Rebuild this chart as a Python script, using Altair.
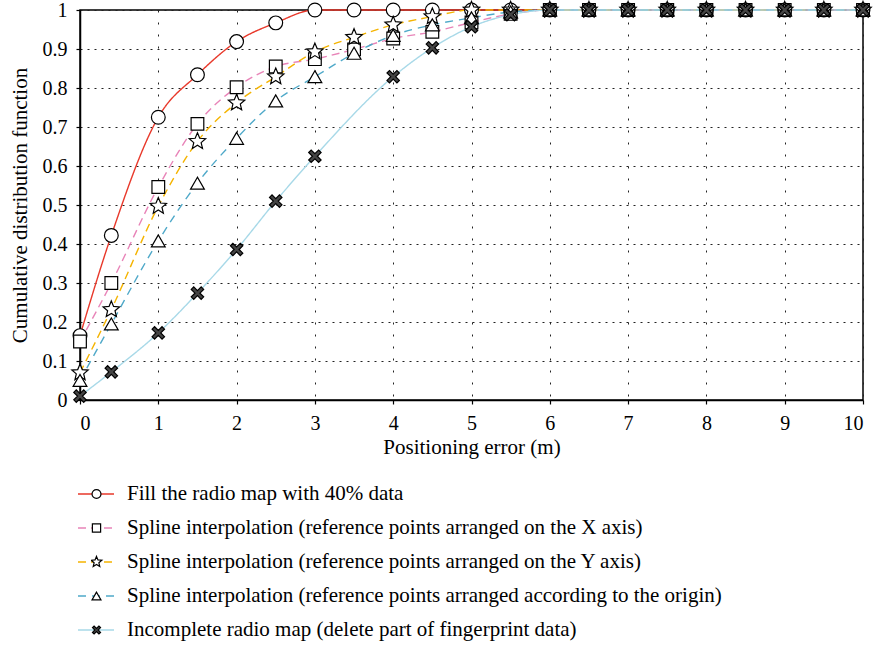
import altair as alt
import pandas as pd

x_vals = [0, 0.4, 1, 1.5, 2, 2.5, 3, 3.5, 4, 4.5, 5, 5.5, 6, 6.5, 7, 7.5, 8, 8.5, 9, 9.5, 10]

fill40 = [0.165, 0.422, 0.725, 0.834, 0.919, 0.967, 1.0, 1.0, 1.0, 1.0, 1.0, 1.0, 1.0, 1.0, 1.0, 1.0, 1.0, 1.0, 1.0, 1.0, 1.0]
spline_x = [0.150, 0.300, 0.546, 0.708, 0.802, 0.855, 0.874, 0.899, 0.927, 0.944, 0.968, 0.990, 1.0, 1.0, 1.0, 1.0, 1.0, 1.0, 1.0, 1.0, 1.0]
spline_y = [0.070, 0.232, 0.497, 0.663, 0.762, 0.829, 0.893, 0.930, 0.962, 0.983, 1.0, 1.0, 1.0, 1.0, 1.0, 1.0, 1.0, 1.0, 1.0, 1.0, 1.0]
spline_o = [0.050, 0.195, 0.408, 0.556, 0.671, 0.767, 0.829, 0.889, 0.935, 0.962, 0.980, 0.995, 1.0, 1.0, 1.0, 1.0, 1.0, 1.0, 1.0, 1.0, 1.0]
incomplete = [0.010, 0.072, 0.172, 0.274, 0.386, 0.510, 0.625, None, 0.829, 0.903, 0.957, 0.988, 1.0, 1.0, 1.0, 1.0, 1.0, 1.0, 1.0, 1.0, 1.0]

names = [
    "Fill the radio map with 40% data",
    "Spline interpolation (reference points arranged on the X axis)",
    "Spline interpolation (reference points arranged on the Y axis)",
    "Spline interpolation (reference points arranged according to the origin)",
    "Incomplete radio map (delete part of fingerprint data)",
]
marker_keys = ["m1", "m2", "m3", "m4", "m5"]
series_values = [fill40, spline_x, spline_y, spline_o, incomplete]

colors = ["#e8392b", "#e884b8", "#f5b400", "#4fa9c9", "#a8d9e8"]
dashes = [[1, 0], [8, 5], [8, 5], [8, 6], [1, 0]]
square_path = "M-0.92,-0.92 L0.92,-0.92 L0.92,0.92 L-0.92,0.92 Z"
star_path = ("M0,-1.25 L0.33,-0.455 L1.189,-0.386 L0.535,0.174 L0.735,1.011 L0,0.5625 "
             "L-0.735,1.011 L-0.535,0.174 L-1.189,-0.386 L-0.33,-0.455 Z")
x_path = ("M-0.9,-0.54 L-0.54,-0.9 L0,-0.36 L0.54,-0.9 L0.9,-0.54 L0.36,0 L0.9,0.54 "
          "L0.54,0.9 L0,0.36 L-0.54,0.9 L-0.9,0.54 L-0.36,0 Z")
shapes = ["circle", square_path, star_path, "triangle-up", x_path]
fills = ["white", "white", "white", "white", "#444444"]
outlines = ["black", "black", "black", "black", "black"]

rows = []
for name, key, vals in zip(names, marker_keys, series_values):
    for xv, yv in zip(x_vals, vals):
        if yv is None:
            continue
        rows.append({"x": xv, "y": yv, "series": name, "marker": key})
df = pd.DataFrame(rows)

FONT = "Liberation Serif"
LEG_X = -3
LEG_Y = 472

x_enc = alt.X(
    "x:Q",
    scale=alt.Scale(domain=[0, 10], nice=False),
    axis=alt.Axis(values=list(range(11)), title="Positioning error (m)",
                  gridDash=[2, 10]),
)
y_enc = alt.Y(
    "y:Q",
    scale=alt.Scale(domain=[0, 1], nice=False),
    axis=alt.Axis(values=[i / 10 for i in range(11)], format=".1~f",
                  title="Cumulative distribution function", gridDash=[2, 5]),
)

line_legend = alt.Legend(
    orient="none", legendX=LEG_X, legendY=LEG_Y, title=None,
    symbolType="stroke", symbolSize=1296, symbolStrokeWidth=1.5,
    labelFont=FONT, labelFontSize=21, labelColor="black", labelLimit=0,
    labelOffset=12, rowPadding=10, clipHeight=24, padding=0,
)

lines = alt.Chart(df).mark_line(interpolate="monotone", strokeWidth=1.4).encode(
    x=x_enc,
    y=y_enc,
    color=alt.Color("series:N", scale=alt.Scale(domain=names, range=colors), legend=line_legend),
    strokeDash=alt.StrokeDash("series:N", scale=alt.Scale(domain=names, range=dashes), legend=line_legend),
)

marker_legend = alt.Legend(
    orient="none", legendX=LEG_X + 14, legendY=LEG_Y, title=None,
    symbolSize=80, symbolStrokeColor="black", symbolStrokeWidth=1.2,
    labelOpacity=0, labelFontSize=2, labelLimit=2,
    rowPadding=10, clipHeight=24, padding=0,
)

points = alt.Chart(df).mark_point(filled=True, strokeWidth=1.2, size=190, opacity=1).encode(
    x=x_enc,
    y=y_enc,
    shape=alt.Shape("marker:N", scale=alt.Scale(domain=marker_keys, range=shapes), legend=marker_legend),
    fill=alt.Fill("marker:N", scale=alt.Scale(domain=marker_keys, range=fills), legend=marker_legend),
    stroke=alt.Stroke("marker:N", scale=alt.Scale(domain=marker_keys, range=outlines), legend=marker_legend),
)

chart = alt.layer(lines, points).properties(
    width=783, height=390,
    padding={"left": 80, "top": 10, "right": 10, "bottom": 245},
    autosize=alt.AutoSizeParams(type="none"),
).configure_view(
    stroke="black", strokeWidth=1.5,
).configure_axis(
    labelFont=FONT, labelFontSize=20, labelColor="black",
    titleFont=FONT, titleFontSize=21, titleColor="black", titleFontWeight="normal",
    domainColor="black", domainWidth=1.5,
    tickColor="black", tickSize=4, tickWidth=1.2,
    gridColor="#222222", gridWidth=1, labelPadding=9,
).configure_axisY(titlePadding=12).configure_axisX(titlePadding=3)

chart.save("out.html", embed_options={"renderer": "svg", "actions": False})
